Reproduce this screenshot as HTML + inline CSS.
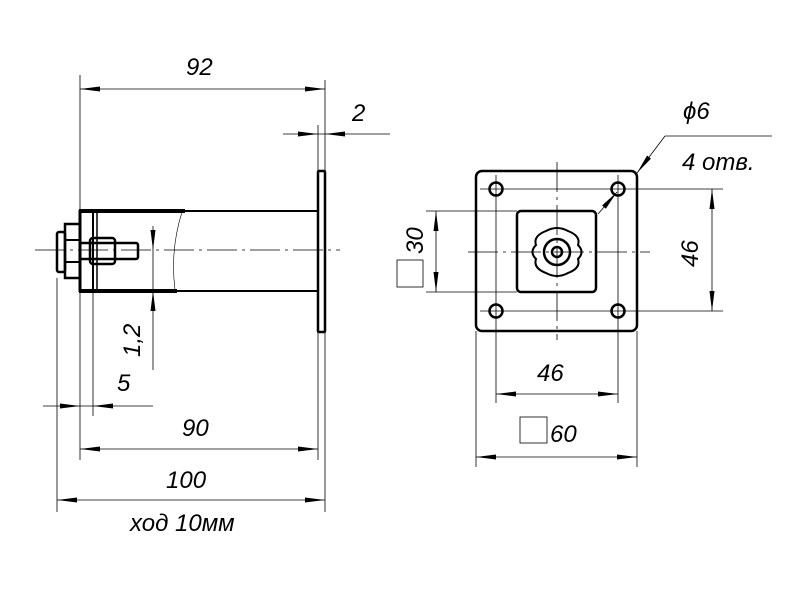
<!DOCTYPE html>
<html><head><meta charset="utf-8"><style>
html,body{margin:0;padding:0;background:#fff}
svg{display:block}
text{font-family:"Liberation Sans","DejaVu Sans",sans-serif;font-style:italic;font-size:24px;fill:#000}
</style></head><body>
<svg width="800" height="600" viewBox="0 0 800 600" xmlns="http://www.w3.org/2000/svg">
<defs>
<marker id="a" viewBox="0 0 20 6" refX="20" refY="3" markerWidth="20" markerHeight="6" markerUnits="userSpaceOnUse" orient="auto-start-reverse"><path d="M20,3 L0,0.5 L0,5.5 Z" fill="#000"/></marker>
</defs>
<g stroke="#000" fill="none" stroke-width="0.8">
<line x1="80" y1="75" x2="80" y2="460"/>
<line x1="325" y1="80" x2="325" y2="512"/>
<line x1="318" y1="125" x2="318" y2="460"/>
<line x1="57" y1="278" x2="57" y2="512"/>
<line x1="93" y1="291" x2="93" y2="416"/>
<line x1="80" y1="89" x2="325" y2="89" marker-start="url(#a)" marker-end="url(#a)"/>
<line x1="283" y1="134" x2="390" y2="134"/>
<line x1="80" y1="449" x2="318" y2="449" marker-start="url(#a)" marker-end="url(#a)"/>
<line x1="57" y1="500" x2="325" y2="500" marker-start="url(#a)" marker-end="url(#a)"/>
<line x1="43" y1="406" x2="153" y2="406"/>
<line x1="153" y1="226" x2="153" y2="370"/>
<line x1="35" y1="250" x2="340" y2="250" stroke-dasharray="30,5,3,5"/>
<path d="M182,212 Q170,250 175,290" stroke-width="0.6"/>
</g>
<g fill="#000">
<path d="M318,134 L298,131.5 L298,136.5Z"/>
<path d="M325,134 L345,131.5 L345,136.5Z"/>
<path d="M80,406 L60,403.5 L60,408.5Z"/>
<path d="M93,406 L113,403.5 L113,408.5Z"/>
<path d="M153,250 L150.5,230 L155.5,230Z"/>
<path d="M153,291 L150.5,311 L155.5,311Z"/>
</g>
<g stroke="#000" fill="none">
<rect x="318" y="171" width="7" height="161" stroke-width="2.5" rx="1"/>
<line x1="79" y1="211" x2="318" y2="211" stroke-width="2"/>
<line x1="79" y1="291" x2="318" y2="291" stroke-width="2"/>
<line x1="79" y1="211" x2="185" y2="211" stroke-width="4"/>
<line x1="79" y1="291" x2="177" y2="291" stroke-width="4"/>
<line x1="80" y1="210" x2="80" y2="292" stroke-width="3"/>
<line x1="93" y1="211" x2="93" y2="291" stroke-width="2"/>
<line x1="97" y1="211" x2="97" y2="291" stroke-width="1.5"/>
<rect x="57" y="232" width="8" height="40" stroke-width="2.5" rx="2"/>
<rect x="65" y="224" width="15" height="54" stroke-width="2.5"/>
<line x1="65" y1="240" x2="80" y2="240" stroke-width="2"/>
<line x1="65" y1="262" x2="80" y2="262" stroke-width="2"/>
<rect x="80" y="243" width="58" height="16" stroke-width="2.5" rx="2"/>
<rect x="90" y="238" width="25" height="26" stroke-width="2.5" rx="3"/>
</g>
<g stroke="#000" fill="none" stroke-width="0.8">
<line x1="557" y1="162" x2="557" y2="340" stroke-dasharray="30,5,3,5"/>
<line x1="468" y1="252" x2="650" y2="252" stroke-dasharray="30,5,3,5"/>
<line x1="480" y1="189" x2="723" y2="189"/>
<line x1="480" y1="311" x2="723" y2="311"/>
<line x1="496" y1="175" x2="496" y2="403"/>
<line x1="618" y1="175" x2="618" y2="403"/>
<line x1="476" y1="331" x2="476" y2="467"/>
<line x1="637" y1="331" x2="637" y2="467"/>
<line x1="426" y1="211" x2="517" y2="211"/>
<line x1="426" y1="292" x2="517" y2="292"/>
<line x1="436" y1="211" x2="436" y2="292" marker-start="url(#a)" marker-end="url(#a)"/>
<line x1="712" y1="189" x2="712" y2="311" marker-start="url(#a)" marker-end="url(#a)"/>
<line x1="496" y1="394" x2="618" y2="394" marker-start="url(#a)" marker-end="url(#a)"/>
<line x1="476" y1="457" x2="637" y2="457" marker-start="url(#a)" marker-end="url(#a)"/>
<rect x="397" y="260" width="26" height="27"/>
<rect x="520" y="417" width="27" height="26"/>
<line x1="772" y1="136" x2="665" y2="136"/>
<line x1="665" y1="136" x2="637" y2="173" marker-end="url(#a)"/>
<line x1="598" y1="214" x2="617" y2="192" marker-end="url(#a)"/>
</g>
<g stroke="#000" fill="none" stroke-width="2.5">
<rect x="476" y="171" width="161" height="160" rx="6"/>
<rect x="517" y="211" width="79" height="81" rx="4"/>
<circle cx="496" cy="189" r="6.5"/>
<circle cx="618" cy="189" r="6.5"/>
<circle cx="496" cy="311" r="6.5"/>
<circle cx="618" cy="311" r="6.5"/>
<circle cx="557" cy="252" r="13"/>
<circle cx="557" cy="252" r="5"/>
<path d="M546,231 Q557,225 568,231 Q581,236 578,245 Q585,252 578,259 Q581,268 568,273 Q557,279 546,273 Q533,268 536,259 Q529,252 536,245 Q533,236 546,231 Z" stroke-width="2"/>
</g>
<text x="186" y="75">92</text>
<text x="352" y="121">2</text>
<text x="117" y="391">5</text>
<text transform="translate(140,357) rotate(-90)">1,2</text>
<text x="182" y="436">90</text>
<text x="166" y="488">100</text>
<text x="130" y="531">ход 10мм</text>
<text x="683" y="119">ϕ6</text>
<text x="682" y="170">4 отв.</text>
<text transform="translate(423,254) rotate(-90)">30</text>
<text transform="translate(698,267) rotate(-90)">46</text>
<text x="537" y="381">46</text>
<text x="550" y="442">60</text>
</svg>
</body></html>
